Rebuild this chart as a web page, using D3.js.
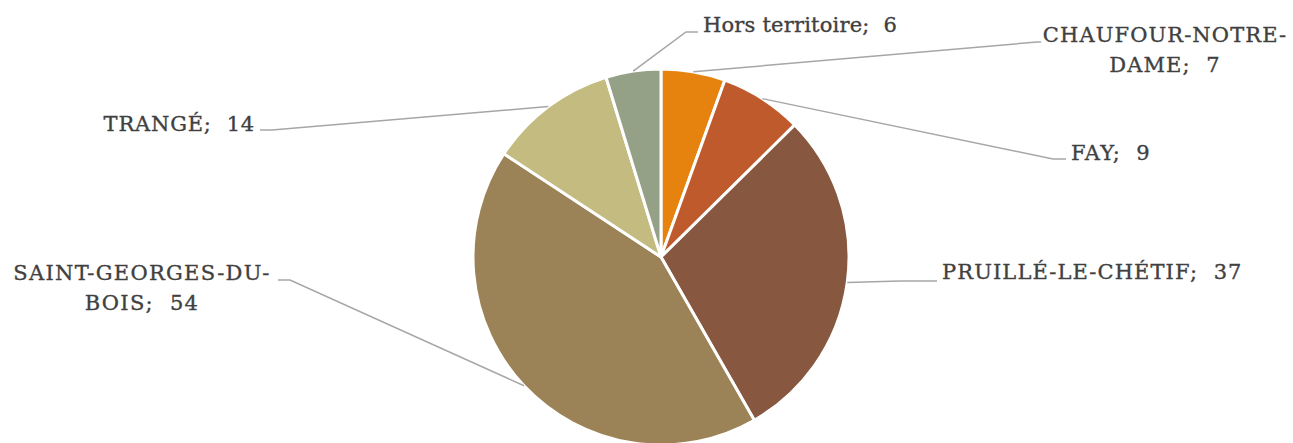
<!DOCTYPE html>
<html>
<head>
<meta charset="utf-8">
<script src="https://cdn.jsdelivr.net/npm/d3@7"></script>
<style>
  html, body { margin: 0; padding: 0; background: #fff; }
  svg { display: block; }
  text { font-family: "DejaVu Serif", serif; fill: #404040; stroke: #404040; stroke-width: 0.35; white-space: pre; }
</style>
</head>
<body>
<svg id="chart" width="1293" height="443"></svg>
<script>
// Communes and counts, clockwise from 12 o'clock
const communes = ["CHAUFOUR-NOTRE-DAME", "FAY", "PRUILLÉ-LE-CHÉTIF", "SAINT-GEORGES-DU-BOIS", "TRANGÉ", "Hors territoire"];
const counts = [7, 9, 37, 54, 14, 6];
const labelLines = [
  ["CHAUFOUR-NOTRE-", "DAME;  7"],
  ["FAY;  9"],
  ["PRUILLÉ-LE-CHÉTIF;  37"],
  ["SAINT-GEORGES-DU-", "BOIS;  54"],
  ["TRANGÉ;  14"],
  ["Hors territoire;  6"]
];
const sliceColors = ["#E6830F", "#BE5A2C", "#87573F", "#9C8357", "#C3BB80", "#94A186"];

// Label placement: elbow point, end of leader, text anchor and position
const layout = [
  { elbow: [1037, 42], end: [1041, 42], anchor: "middle", tx: 1165, ty: 42, ls: 1.1 },
  { elbow: [1053, 159], end: [1066, 159], anchor: "start", tx: 1071, ty: 160, ls: 1.1 },
  { elbow: [900, 281], end: [937, 281], anchor: "start", tx: 942, ty: 279, ls: 1.1 },
  { elbow: [290, 280], end: [278, 280], anchor: "middle", tx: 142, ty: 280, ls: 1.3 },
  { elbow: [272, 130], end: [260, 130], anchor: "end", tx: 255, ty: 131, ls: 0.8 },
  { elbow: [686, 32], end: [698, 32], anchor: "start", tx: 703, ty: 32, ls: 0.2 }
];

const svg = d3.select("#chart");
const cx = 661, cy = 257, r = 188;
const lineHeight = 30;

const data = communes.map((c, i) => ({ name: c, value: counts[i], i }));
const pie = d3.pie().sort(null).value(d => d.value);
const arcs = pie(data);
const arc = d3.arc().innerRadius(0).outerRadius(r);

const g = svg.append("g").attr("transform", `translate(${cx},${cy})`);

g.selectAll("path.slice")
  .data(arcs)
  .join("path")
  .attr("class", "slice")
  .attr("d", arc)
  .attr("fill", d => sliceColors[d.index])
  .attr("stroke", "#fff")
  .attr("stroke-width", 3)
  .attr("stroke-linejoin", "round");

// Leader lines from the slice rim to the labels
const edgePoint = d => {
  const a = (d.startAngle + d.endAngle) / 2;
  return [cx + r * Math.sin(a), cy - r * Math.cos(a)];
};

svg.selectAll("polyline.leader")
  .data(arcs)
  .join("polyline")
  .attr("class", "leader")
  .attr("points", d => {
    const L = layout[d.index];
    return [edgePoint(d), L.elbow, L.end].map(p => p.join(",")).join(" ");
  })
  .attr("fill", "none")
  .attr("stroke", "#A6A6A6")
  .attr("stroke-width", 1.5);

// Category labels with values
const labels = svg.selectAll("text.lbl")
  .data(arcs)
  .join("text")
  .attr("class", "lbl")
  .attr("font-size", 21)
  .attr("letter-spacing", d => layout[d.index].ls)
  .attr("text-anchor", d => layout[d.index].anchor)
  .attr("x", d => layout[d.index].tx)
  .attr("y", d => layout[d.index].ty);

labels.each(function(d) {
  const L = layout[d.index];
  d3.select(this).selectAll("tspan")
    .data(labelLines[d.index])
    .join("tspan")
    .attr("x", L.tx)
    .attr("dy", (t, j) => j === 0 ? 0 : lineHeight)
    .text(t => t);
});
</script>
</body>
</html>
